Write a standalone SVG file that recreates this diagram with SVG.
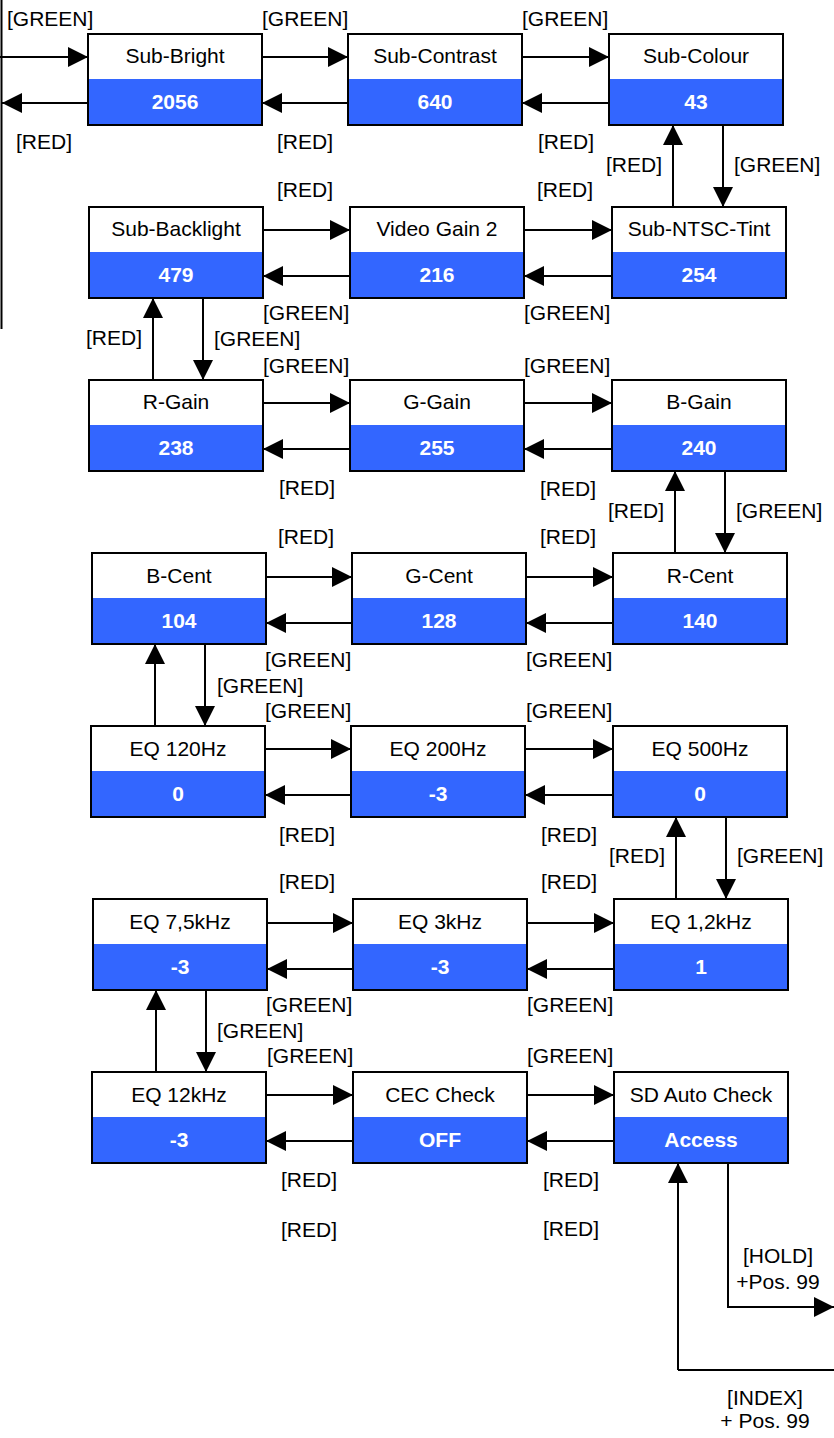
<svg xmlns="http://www.w3.org/2000/svg" width="834" height="1438" viewBox="0 0 834 1438">
<defs>
<style>
.bg{fill:#ffffff}
.top{fill:#ffffff}
.bot{fill:#3366ff}
.frame{fill:none;stroke:#000;stroke-width:2}
.t{font-family:"Liberation Sans",Arial,sans-serif;font-size:21px;fill:#000;text-anchor:middle}
.v{font-family:"Liberation Sans",Arial,sans-serif;font-size:21px;font-weight:bold;fill:#fff;text-anchor:middle}
.l{font-family:"Liberation Sans",Arial,sans-serif;font-size:21px;fill:#000}
.lc{font-family:"Liberation Sans",Arial,sans-serif;font-size:21px;fill:#000;text-anchor:middle}
.c{fill:none;stroke:#000;stroke-width:2}
.a{fill:none;stroke:#000;stroke-width:2;marker-end:url(#ah)}
</style>
<marker id="ah" markerUnits="userSpaceOnUse" markerWidth="20" markerHeight="20" refX="20" refY="10" orient="auto" viewBox="0 0 20 20">
<path d="M0,0 L20,10 L0,20 z" fill="#000"/>
</marker>
<g id="box">
<rect class="top" x="0" y="0" width="174" height="45"/>
<rect class="bot" x="0" y="45" width="174" height="46"/>
<rect class="frame" x="0" y="0" width="174" height="91"/>
</g>
</defs>
<rect class="bg" x="0" y="0" width="834" height="1438"/>

<g id="sub-bright" transform="translate(88,34)"><use href="#box"/><text class="t" x="87" y="29">Sub-Bright</text><text class="v" x="87" y="75">2056</text></g>
<g id="sub-contrast" transform="translate(348,34)"><use href="#box"/><text class="t" x="87" y="29">Sub-Contrast</text><text class="v" x="87" y="75">640</text></g>
<g id="sub-colour" transform="translate(609,34)"><use href="#box"/><text class="t" x="87" y="29">Sub-Colour</text><text class="v" x="87" y="75">43</text></g>

<g id="sub-backlight" transform="translate(89,207)"><use href="#box"/><text class="t" x="87" y="29">Sub-Backlight</text><text class="v" x="87" y="75">479</text></g>
<g id="video-gain-2" transform="translate(350,207)"><use href="#box"/><text class="t" x="87" y="29">Video Gain 2</text><text class="v" x="87" y="75">216</text></g>
<g id="sub-ntsc-tint" transform="translate(612,207)"><use href="#box"/><text class="t" x="87" y="29">Sub-NTSC-Tint</text><text class="v" x="87" y="75">254</text></g>

<g id="r-gain" transform="translate(89,380)"><use href="#box"/><text class="t" x="87" y="29">R-Gain</text><text class="v" x="87" y="75">238</text></g>
<g id="g-gain" transform="translate(350,380)"><use href="#box"/><text class="t" x="87" y="29">G-Gain</text><text class="v" x="87" y="75">255</text></g>
<g id="b-gain" transform="translate(612,380)"><use href="#box"/><text class="t" x="87" y="29">B-Gain</text><text class="v" x="87" y="75">240</text></g>

<g id="b-cent" transform="translate(92,553)"><use href="#box"/><text class="t" x="87" y="30">B-Cent</text><text class="v" x="87" y="75">104</text></g>
<g id="g-cent" transform="translate(352,553)"><use href="#box"/><text class="t" x="87" y="30">G-Cent</text><text class="v" x="87" y="75">128</text></g>
<g id="r-cent" transform="translate(613,553)"><use href="#box"/><text class="t" x="87" y="30">R-Cent</text><text class="v" x="87" y="75">140</text></g>

<g id="eq-120hz" transform="translate(91,726)"><use href="#box"/><text class="t" x="87" y="30">EQ 120Hz</text><text class="v" x="87" y="75">0</text></g>
<g id="eq-200hz" transform="translate(351,726)"><use href="#box"/><text class="t" x="87" y="30">EQ 200Hz</text><text class="v" x="87" y="75">-3</text></g>
<g id="eq-500hz" transform="translate(613,726)"><use href="#box"/><text class="t" x="87" y="30">EQ 500Hz</text><text class="v" x="87" y="75">0</text></g>

<g id="eq-7-5khz" transform="translate(93,899)"><use href="#box"/><text class="t" x="87" y="30">EQ 7,5kHz</text><text class="v" x="87" y="75">-3</text></g>
<g id="eq-3khz" transform="translate(353,899)"><use href="#box"/><text class="t" x="87" y="30">EQ 3kHz</text><text class="v" x="87" y="75">-3</text></g>
<g id="eq-1-2khz" transform="translate(614,899)"><use href="#box"/><text class="t" x="87" y="30">EQ 1,2kHz</text><text class="v" x="87" y="75">1</text></g>

<g id="eq-12khz" transform="translate(92,1072)"><use href="#box"/><text class="t" x="87" y="30">EQ 12kHz</text><text class="v" x="87" y="75">-3</text></g>
<g id="cec-check" transform="translate(353,1072)"><use href="#box"/><text class="t" x="87" y="30">CEC Check</text><text class="v" x="87" y="75">OFF</text></g>
<g id="sd-auto-check" transform="translate(614,1072)"><use href="#box"/><text class="t" x="87" y="30">SD Auto Check</text><text class="v" x="87" y="75">Access</text></g>

<g id="connectors">
<path class="c" d="M1.5,0 V329"/>
<path class="a" d="M0,57 H88"/>
<path class="a" d="M88,103 H2"/>
<path class="a" d="M262,57 H348"/>
<path class="a" d="M522,57 H609"/>
<path class="a" d="M348,103 H262"/>
<path class="a" d="M609,103 H522"/>

<path class="a" d="M673,207 V125"/>
<path class="a" d="M723,125 V207"/>

<path class="a" d="M263,230 H350"/>
<path class="a" d="M524,230 H612"/>
<path class="a" d="M350,276 H263"/>
<path class="a" d="M612,276 H524"/>

<path class="a" d="M153,380 V298"/>
<path class="a" d="M203,298 V380"/>

<path class="a" d="M263,403 H350"/>
<path class="a" d="M524,403 H612"/>
<path class="a" d="M350,449 H263"/>
<path class="a" d="M612,449 H524"/>

<path class="a" d="M675,553 V471"/>
<path class="a" d="M725,471 V553"/>

<path class="a" d="M266,577 H352"/>
<path class="a" d="M526,577 H613"/>
<path class="a" d="M352,623 H266"/>
<path class="a" d="M613,623 H526"/>

<path class="a" d="M155,726 V644"/>
<path class="a" d="M205,644 V726"/>

<path class="a" d="M265,749 H351"/>
<path class="a" d="M525,749 H613"/>
<path class="a" d="M351,795 H265"/>
<path class="a" d="M613,795 H525"/>

<path class="a" d="M676,899 V817"/>
<path class="a" d="M726,817 V899"/>

<path class="a" d="M267,923 H353"/>
<path class="a" d="M527,923 H614"/>
<path class="a" d="M353,969 H267"/>
<path class="a" d="M614,969 H527"/>

<path class="a" d="M156,1072 V990"/>
<path class="a" d="M206,990 V1072"/>

<path class="a" d="M266,1095 H353"/>
<path class="a" d="M527,1095 H614"/>
<path class="a" d="M353,1141 H266"/>
<path class="a" d="M614,1141 H527"/>

<path class="c" d="M678,1370 H834"/>
<path class="a" d="M678,1370 V1163"/>
<path class="a" d="M728,1163 V1307 H834"/>
</g>

<g id="labels">
<text class="l" x="7" y="26">[GREEN]</text>
<text class="l" x="262" y="26">[GREEN]</text>
<text class="l" x="522" y="26">[GREEN]</text>
<text class="l" x="16" y="149">[RED]</text>
<text class="l" x="277" y="149">[RED]</text>
<text class="l" x="538" y="149">[RED]</text>
<text class="l" x="606" y="172">[RED]</text>
<text class="l" x="734" y="172">[GREEN]</text>
<text class="l" x="277" y="197">[RED]</text>
<text class="l" x="537" y="197">[RED]</text>
<text class="l" x="263" y="320">[GREEN]</text>
<text class="l" x="524" y="320">[GREEN]</text>
<text class="l" x="86" y="345">[RED]</text>
<text class="l" x="214" y="346">[GREEN]</text>
<text class="l" x="263" y="373">[GREEN]</text>
<text class="l" x="524" y="373">[GREEN]</text>
<text class="l" x="279" y="495">[RED]</text>
<text class="l" x="540" y="496">[RED]</text>
<text class="l" x="608" y="518">[RED]</text>
<text class="l" x="736" y="518">[GREEN]</text>
<text class="l" x="278" y="544">[RED]</text>
<text class="l" x="540" y="544">[RED]</text>
<text class="l" x="265" y="667">[GREEN]</text>
<text class="l" x="526" y="667">[GREEN]</text>
<text class="l" x="217" y="693">[GREEN]</text>
<text class="l" x="265" y="718">[GREEN]</text>
<text class="l" x="526" y="718">[GREEN]</text>
<text class="l" x="279" y="842">[RED]</text>
<text class="l" x="541" y="842">[RED]</text>
<text class="l" x="609" y="863">[RED]</text>
<text class="l" x="737" y="863">[GREEN]</text>
<text class="l" x="279" y="889">[RED]</text>
<text class="l" x="541" y="889">[RED]</text>
<text class="l" x="266" y="1012">[GREEN]</text>
<text class="l" x="527" y="1012">[GREEN]</text>
<text class="l" x="217" y="1038">[GREEN]</text>
<text class="l" x="267" y="1063">[GREEN]</text>
<text class="l" x="527" y="1063">[GREEN]</text>
<text class="l" x="281" y="1187">[RED]</text>
<text class="l" x="543" y="1187">[RED]</text>
<text class="l" x="281" y="1237">[RED]</text>
<text class="l" x="543" y="1236">[RED]</text>
<text class="lc" x="778" y="1263">[HOLD]</text>
<text class="lc" x="778" y="1289">+Pos. 99</text>
<text class="lc" x="765" y="1405">[INDEX]</text>
<text class="lc" x="765" y="1428">+ Pos. 99</text>
</g>
</svg>
